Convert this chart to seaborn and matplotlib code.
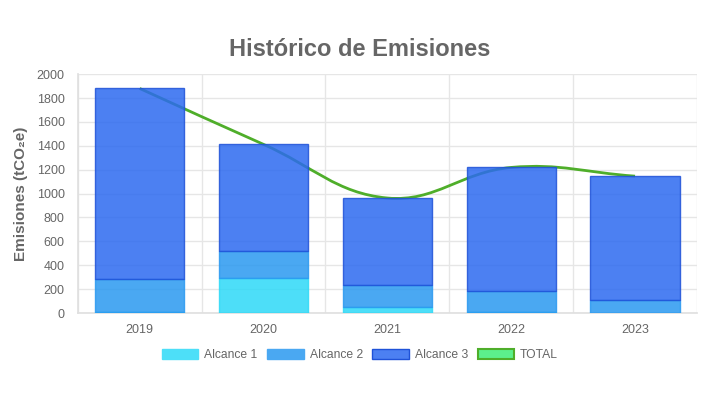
import numpy as np
import pandas as pd
import seaborn as sns
import matplotlib.pyplot as plt
from matplotlib.patches import Patch
from matplotlib.path import Path
from matplotlib.patches import PathPatch

years = ["2019", "2020", "2021", "2022", "2023"]
alcance_1 = [12, 296, 53, 12, 3]
alcance_2 = [272, 223, 181, 175, 108]
alcance_3 = [1596, 893, 729, 1032, 1035]
total = [a + b + c for a, b, c in zip(alcance_1, alcance_2, alcance_3)]

series_names = ["Alcance 1", "Alcance 2", "Alcance 3"]
# colours are semi-transparent like the original, so the line shows through
fill_colors = ["#2ed9f7", "#2a99f0", "#2c6af0"]
edge_colors = ["#2ed9f7", "#2a99f0", "#1f52d8"]
legend_colors = ["#4ddff8", "#4aa8f2", "#4c80f2"]
line_color = "#4fae2a"

sns.set_theme(style="white")
plt.rcParams["font.family"] = ["Liberation Sans", "DejaVu Sans"]

df = pd.DataFrame({
    "year": years,
    "Alcance 1": alcance_1,
    "Alcance 2": alcance_2,
    "Alcance 3": alcance_3,
})

fig = plt.figure(figsize=(7.2, 4.05), dpi=100)
ax = fig.add_axes([0.108, 0.227, 0.86, 0.59])

# stacked bars
bottom = np.zeros(len(years))
for name, fc, ec in zip(series_names, fill_colors, edge_colors):
    sns.barplot(data=df, x="year", y=name, color=fc, ax=ax, width=0.72,
                bottom=bottom, edgecolor=ec, linewidth=1, saturation=1,
                alpha=0.85, zorder=3)
    bottom = bottom + df[name].to_numpy()

# TOTAL line, Chart.js style spline (tension 0.4), drawn behind the bars
sx, sy = 123.8, 0.1195  # px per category / per unit for distances
pts = np.column_stack([np.arange(len(years)), np.array(total, dtype=float)])
tension = 0.4
ctrl_prev, ctrl_next = [], []
for i in range(len(pts)):
    prev = pts[i - 1] if i > 0 else pts[i]
    nxt = pts[i + 1] if i < len(pts) - 1 else pts[i]
    cur = pts[i]
    d01 = np.hypot((cur[0] - prev[0]) * sx, (cur[1] - prev[1]) * sy)
    d12 = np.hypot((nxt[0] - cur[0]) * sx, (nxt[1] - cur[1]) * sy)
    s = d01 + d12
    s01 = d01 / s if s else 0
    s12 = d12 / s if s else 0
    ctrl_prev.append(cur - tension * s01 * (nxt - prev))
    ctrl_next.append(cur + tension * s12 * (nxt - prev))

verts = [tuple(pts[0])]
codes = [Path.MOVETO]
for i in range(1, len(pts)):
    verts += [tuple(ctrl_next[i - 1]), tuple(ctrl_prev[i]), tuple(pts[i])]
    codes += [Path.CURVE4] * 3
ax.add_patch(PathPatch(Path(verts, codes), facecolor="none",
                       edgecolor=line_color, linewidth=2, zorder=2))

ax.set_ylim(0, 2000)
ax.set_xlim(-0.5, len(years) - 0.5)
ax.set_yticks(range(0, 2001, 200))
ax.set_xticks(np.arange(-0.5, len(years), 1), minor=True)
ax.grid(False)
ax.grid(True, axis="y", color="#e6e6e6", linewidth=1, zorder=0)
ax.grid(True, axis="x", which="minor", color="#e6e6e6", linewidth=1, zorder=0)
ax.tick_params(axis="x", which="minor", length=6, color="#e6e6e6")
ax.tick_params(axis="x", which="major", length=0, labelsize=9, labelcolor="#666666", pad=8)
ax.tick_params(axis="y", length=6, color="#e6e6e6", labelsize=9, labelcolor="#666666")
for side in ["top", "right"]:
    ax.spines[side].set_visible(False)
for side in ["left", "bottom"]:
    ax.spines[side].set_color("#e0e0e0")
ax.set_xlabel("")
ax.set_ylabel("Emisiones (tCO\u2082e)", fontsize=11, fontweight="bold",
              color="#666666", labelpad=6)

fig.text(0.5, 0.878, "Histórico de Emisiones", ha="center", va="center",
         fontsize=17, fontweight="bold", color="#666666")

handles = [Patch(facecolor=fc, edgecolor=ec, linewidth=1)
           for fc, ec in zip(legend_colors, ["#4ddff8", "#4aa8f2", "#1f52d8"])]
handles.append(Patch(facecolor="#5cf08c", edgecolor=line_color, linewidth=1.5))
labels = series_names + ["TOTAL"]
fig.legend(handles, labels, loc="center", bbox_to_anchor=(0.5, 0.123), ncol=4,
           frameon=False, handlelength=3.0, handleheight=0.95, columnspacing=0.8,
           handletextpad=0.5, prop={"size": 8.7}, labelcolor="#666666")

fig.savefig("out.png", dpi=100)
